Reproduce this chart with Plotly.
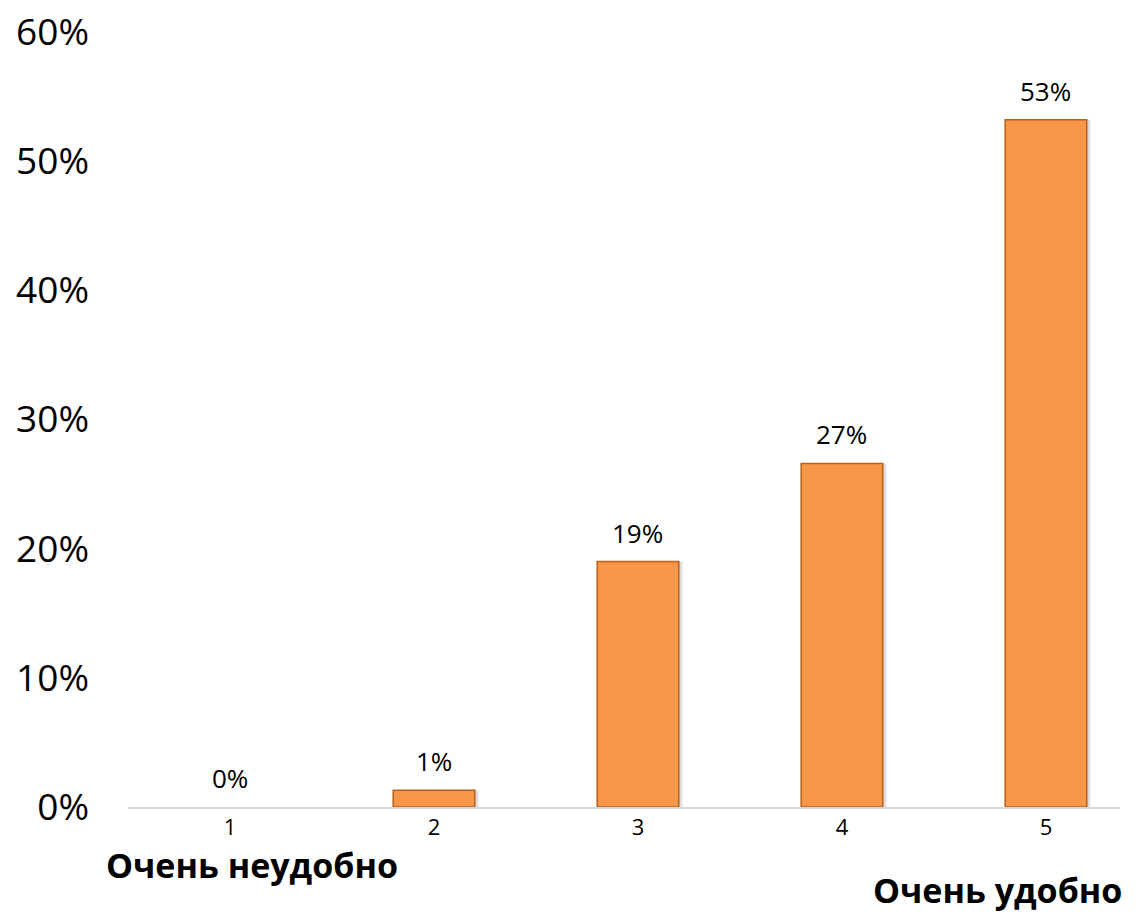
import plotly.graph_objects as go

categories = [1, 2, 3, 4, 5]
values = [0.0, 0.013, 0.19, 0.266, 0.532]
labels = ["0%", "1%", "19%", "27%", "53%"]
tick_vals = [0, 0.1, 0.2, 0.3, 0.4, 0.5, 0.6]
tick_text = ["0%", "10%", "20%", "30%", "40%", "50%", "60%"]
left_caption = "Очень неудобно"
right_caption = "Очень удобно"

FONT = "Open Sans"

fig = go.Figure()
# soft shadow behind the bars
fig.add_trace(go.Bar(
    x=categories, y=values, width=0.4, offset=-0.182,
    marker=dict(color="rgba(0,0,0,0.13)", line=dict(width=0)),
    hoverinfo="skip",
))
fig.add_trace(go.Bar(
    x=categories, y=values, width=0.4, offset=-0.2,
    marker=dict(color="#F79646",
                line=dict(color="#B65F1E", width=[0 if v == 0 else 1.5 for v in values])),
    hoverinfo="skip",
))

for c, v, t in zip(categories, values, labels):
    fig.add_annotation(x=c, y=v, text=t, showarrow=False, yanchor="middle",
                       yshift=29, font=dict(family=FONT, size=26, color="#000000"))

fig.add_annotation(xref="paper", yref="paper", x=-0.024, y=-0.075, xanchor="left",
                   yanchor="middle", text="<b>" + left_caption + "</b>", showarrow=False,
                   font=dict(family=FONT, size=34, color="#000000"))
fig.add_annotation(xref="paper", yref="paper", x=1.004, y=-0.107, xanchor="right",
                   yanchor="middle", text="<b>" + right_caption + "</b>", showarrow=False,
                   font=dict(family=FONT, size=34, color="#000000"))

fig.update_layout(
    width=1132, height=908,
    margin=dict(l=120, r=20, t=24, b=109),
    plot_bgcolor="white", paper_bgcolor="white",
    showlegend=False, barmode="overlay",
    xaxis=dict(range=[0.5, 5.363], tickmode="array", tickvals=categories,
               ticktext=[str(c) for c in categories], automargin=False,
               showgrid=False, zeroline=False, showline=True, linecolor="#D9D9D9",
               linewidth=1.5, ticks="", tickfont=dict(family=FONT, size=22, color="#000000")),
    yaxis=dict(range=[0, 0.6], tickmode="array", tickvals=tick_vals, ticktext=tick_text,
               showgrid=False, zeroline=False, showline=False, ticks="", automargin=False,
               ticklabelstandoff=38, ticklabeloverflow="allow",
               tickfont=dict(family=FONT, size=37, color="#000000")),
)

fig.write_html("out.html")
